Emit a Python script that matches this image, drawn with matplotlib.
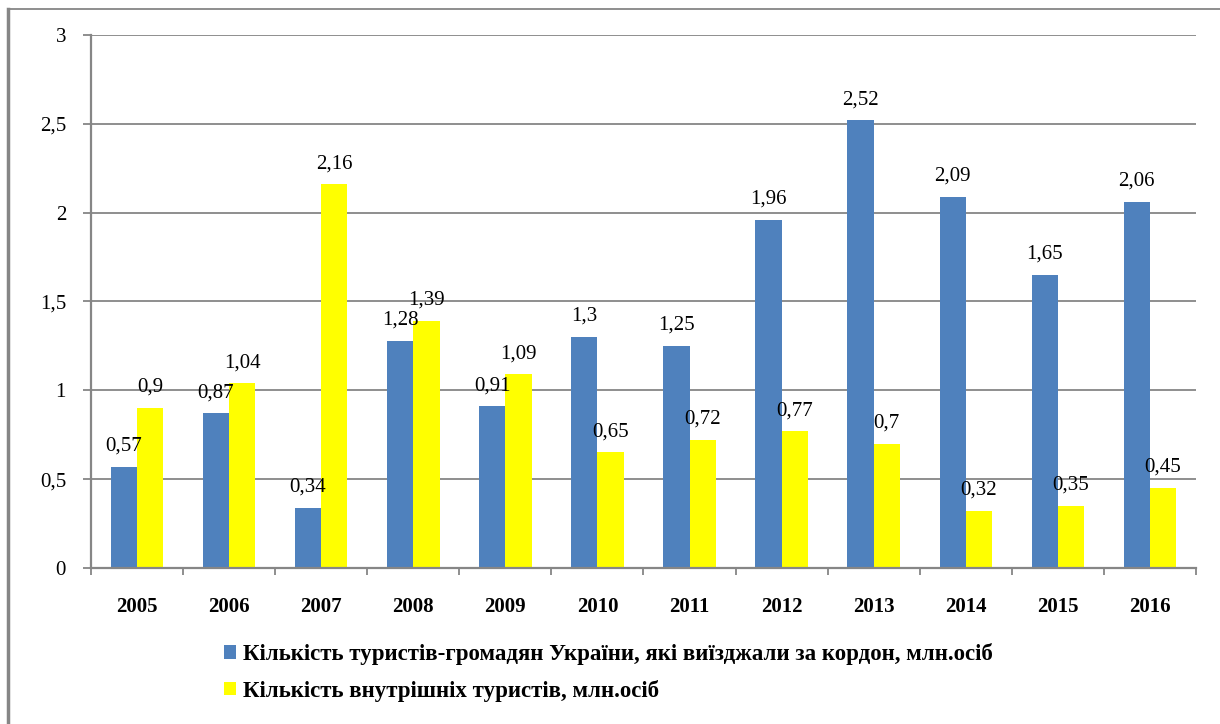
import matplotlib.pyplot as plt
import numpy as np
from matplotlib.lines import Line2D

# дані з діаграми
years = ["2005", "2006", "2007", "2008", "2009", "2010",
         "2011", "2012", "2013", "2014", "2015", "2016"]
outbound = [0.57, 0.87, 0.34, 1.28, 0.91, 1.3, 1.25, 1.96, 2.52, 2.09, 1.65, 2.06]
domestic = [0.9, 1.04, 2.16, 1.39, 1.09, 0.65, 0.72, 0.77, 0.7, 0.32, 0.35, 0.45]
series_names = ["Кількість туристів-громадян України, які виїзджали за кордон, млн.осіб",
                "Кількість внутрішніх туристів, млн.осіб"]

plt.rcParams['font.family'] = ['Liberation Serif', 'DejaVu Serif']

fig = plt.figure(figsize=(12.2, 7.24), dpi=100)
ax = fig.add_axes([0.0746, 0.2155, 0.9057, 0.7362])

x = np.arange(len(years))
w = 0.285
b1 = ax.bar(x - w / 2, outbound, w, color='#4F81BD', label=series_names[0])
b2 = ax.bar(x + w / 2, domestic, w, color='#FFFF00', label=series_names[1])

def fmt(v):
    return f"{v:g}".replace('.', ',')

for bars, vals in [(b1, outbound), (b2, domestic)]:
    for r, v in zip(bars, vals):
        ax.annotate(fmt(v), (r.get_x() + r.get_width() / 2, v),
                    xytext=(0, 8), textcoords='offset points',
                    ha='center', va='bottom', fontsize=15)

ax.set_xlim(-0.5, len(years) - 0.5)
ax.set_ylim(0, 3)
ax.set_yticks(np.arange(0, 3.01, 0.5))
ax.set_yticklabels([fmt(v) for v in np.arange(0, 3.01, 0.5)], fontsize=15)
ax.set_xticks(x)
ax.set_xticklabels(years, fontsize=15, fontweight='bold')
ax.set_xticks(np.arange(-0.5, len(years)), minor=True)

grid_c = '#868686'
ax.grid(axis='y', color=grid_c, linewidth=1.3)
ax.set_axisbelow(True)
for s in ['top', 'right']:
    ax.spines[s].set_visible(False)
for s in ['left', 'bottom']:
    ax.spines[s].set_color(grid_c)
    ax.spines[s].set_linewidth(1.6)
ax.tick_params(axis='y', length=6, width=1.3, color=grid_c, pad=12)
ax.tick_params(axis='x', which='major', length=0, pad=21)
ax.tick_params(axis='x', which='minor', length=5, width=1.3, color=grid_c)

leg = fig.legend(handles=[b1, b2], loc='upper left', bbox_to_anchor=(0.176, 0.124),
                 frameon=False, fontsize=16.5, handlelength=0.55, handleheight=0.55,
                 handletextpad=0.3, labelspacing=0.62, borderaxespad=0)
for t in leg.get_texts():
    t.set_fontweight('bold')

# рамка навколо діаграми (видно лише верх і ліво)
fig.add_artist(Line2D([0.0066, 1.0], [0.9876, 0.9876], color=grid_c, linewidth=1.3))
fig.add_artist(Line2D([0.0066, 0.0066], [0.0, 0.9876], color=grid_c, linewidth=2.5))

fig.savefig("out.png", dpi=100)
